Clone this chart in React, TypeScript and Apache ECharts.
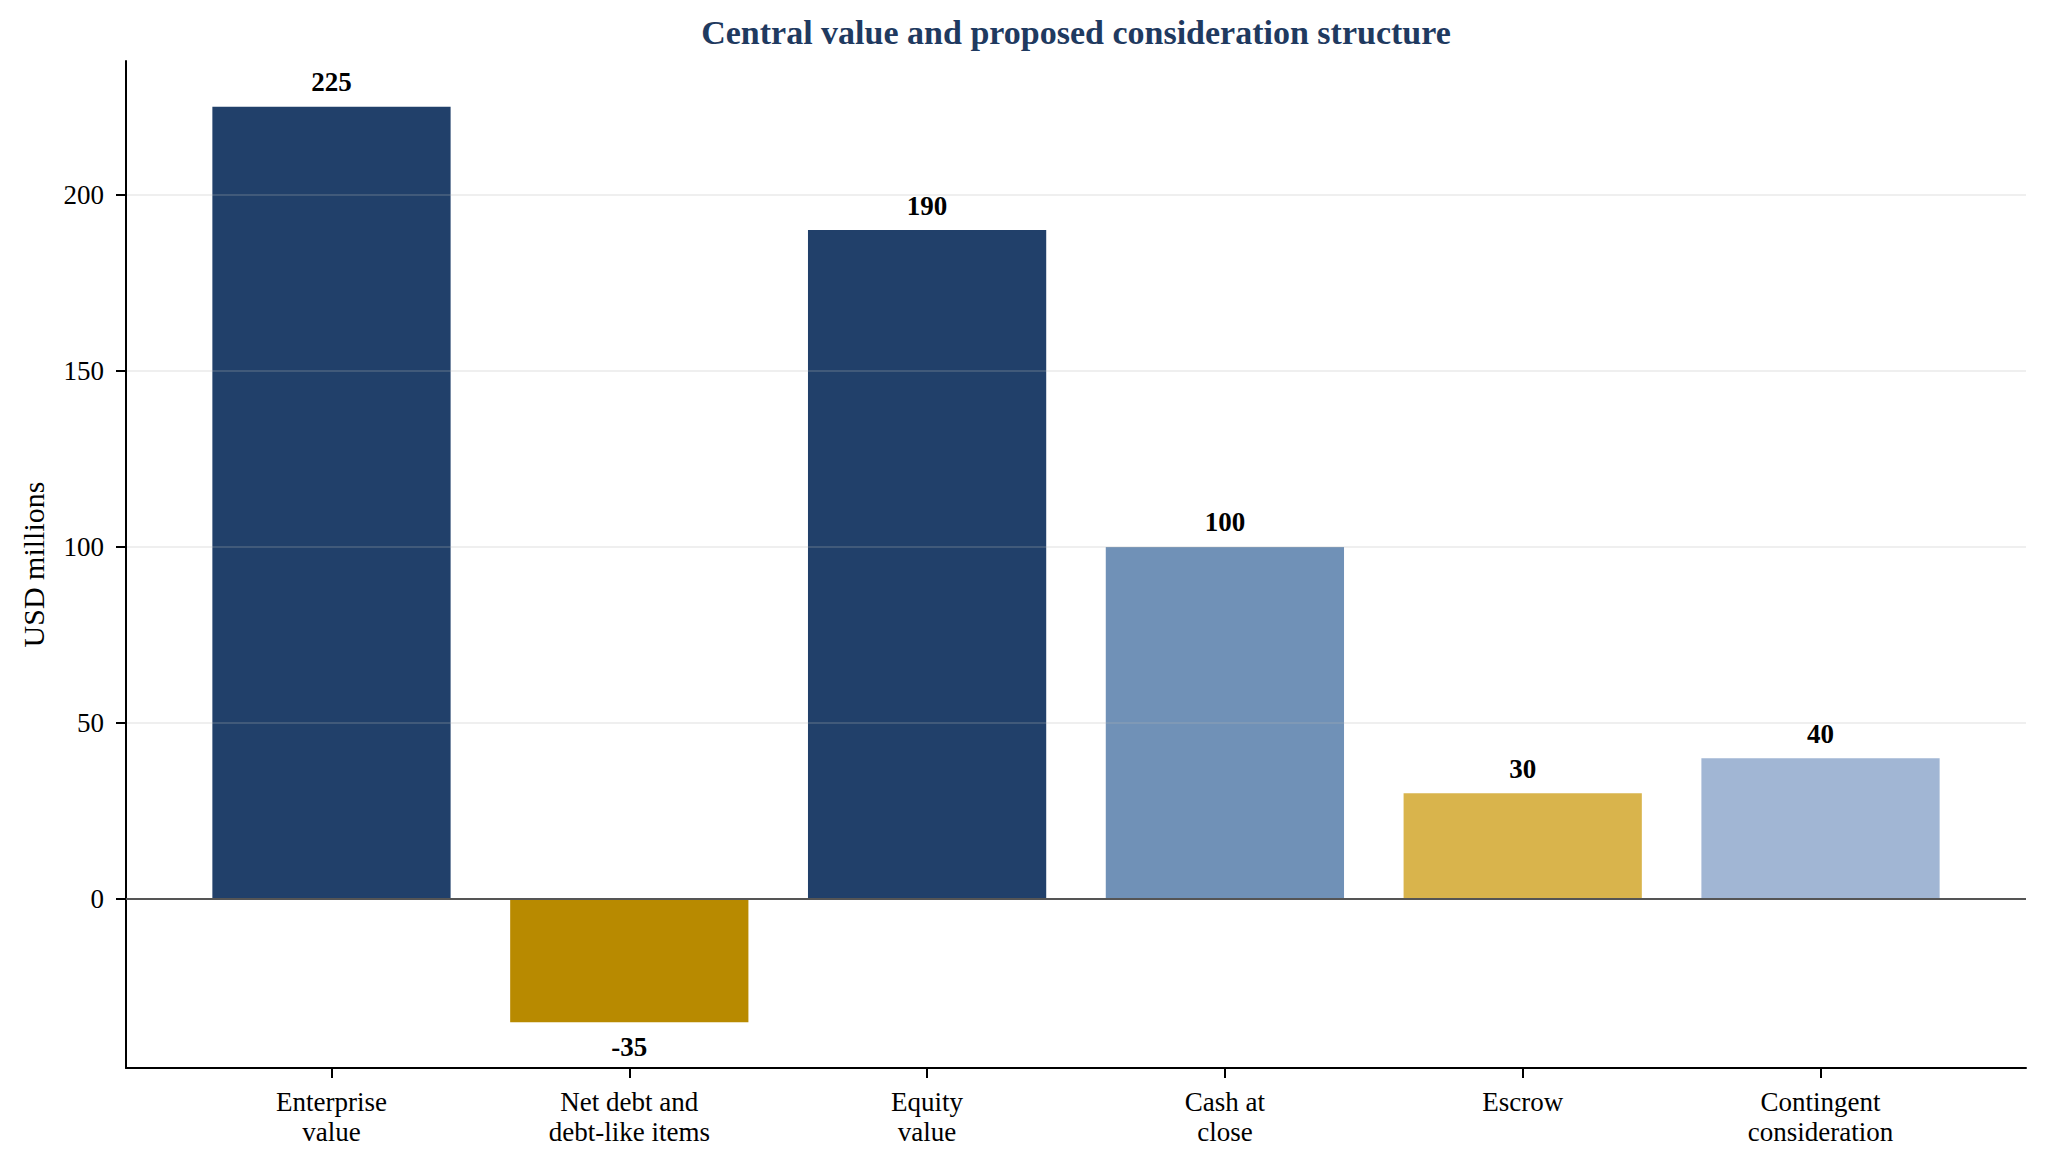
import React, { useEffect, useRef } from "react";
import * as echarts from "echarts";

const categories = [
  "Enterprise\nvalue",
  "Net debt and\ndebt-like items",
  "Equity\nvalue",
  "Cash at\nclose",
  "Escrow",
  "Contingent\nconsideration",
];
const values = [225, -35, 190, 100, 30, 40];
const barColors = ["#21406a", "#b88a00", "#21406a", "#7091b7", "#d9b44c", "#a1b6d4"];
const yTickValues = [0, 50, 100, 150, 200];
const xTickValues = [0, 1, 2, 3, 4, 5];
const yLimits = [-48, 238];
const xLimits = [-0.69, 5.69];
const titleText = "Central value and proposed consideration structure";
const yAxisName = "USD millions";

const FONT = "'Times New Roman', 'Liberation Serif', Times, serif";
const W = 2048;
const H = 1172;
const GRID = { left: 126, right: 22, top: 61, bottom: 104 };

export default function App() {
  const ref = useRef<HTMLDivElement>(null);

  useEffect(() => {
    document.body.style.margin = "0";
    if (!ref.current) return;
    const chart = echarts.init(ref.current, null, { renderer: "svg" });
    const plotW = W - GRID.left - GRID.right;
    const unitPx = plotW / (xLimits[1] - xLimits[0]);
    const barWidth = 0.8 * unitPx;

    chart.setOption({
      animation: false,
      backgroundColor: "#ffffff",
      title: {
        text: titleText,
        left: GRID.left + plotW / 2,
        top: 15,
        textAlign: "center",
        padding: 0,
        textStyle: { fontSize: 34, fontWeight: "bold", fontFamily: FONT, color: "#1f3a60" },
      },
      grid: { ...GRID, containLabel: false },
      xAxis: {
        type: "value",
        min: xLimits[0],
        max: xLimits[1],
        axisLine: { show: true, onZero: false, lineStyle: { color: "#000", width: 2 } },
        axisTick: {
          show: true,
          customValues: xTickValues,
          length: 10,
          lineStyle: { color: "#000", width: 2 },
        },
        axisLabel: {
          customValues: xTickValues,
          formatter: (v: number) => categories[Math.round(v)] ?? "",
          fontSize: 27,
          lineHeight: 30,
          margin: 19,
          color: "#000",
          fontFamily: FONT,
        },
        splitLine: { show: false },
      },
      yAxis: {
        type: "value",
        min: yLimits[0],
        max: yLimits[1],
        z: 3,
        name: yAxisName,
        nameLocation: "middle",
        nameGap: 78,
        nameTextStyle: { fontSize: 30, fontFamily: FONT, color: "#000" },
        axisLine: { show: true, onZero: false, lineStyle: { color: "#000", width: 2 } },
        axisTick: {
          show: true,
          customValues: yTickValues,
          length: 10,
          lineStyle: { color: "#000", width: 2 },
        },
        axisLabel: {
          customValues: yTickValues,
          fontSize: 27,
          margin: 22,
          color: "#000",
          fontFamily: FONT,
        },
        splitLine: {
          show: true,
          showMinLine: true,
          showMaxLine: true,
          lineStyle: { color: "rgba(180,180,180,0.22)", width: 2 },
        },
      },
      series: [
        {
          type: "bar",
          barWidth,
          data: values.map((v, i) => ({
            value: [i, v],
            itemStyle: { color: barColors[i] },
            label: { position: v < 0 ? "bottom" : "top" },
          })),
          label: {
            show: true,
            fontSize: 27,
            fontWeight: "bold",
            fontFamily: FONT,
            color: "#000",
            lineHeight: 27,
            distance: 11,
            formatter: (p: any) => String(p.value[1]),
          },
          markLine: {
            silent: true,
            symbol: ["none", "none"],
            label: { show: false },
            lineStyle: { color: "#555555", width: 2, type: "solid" },
            data: [{ yAxis: 0 }],
          },
        },
      ],
    });

    return () => chart.dispose();
  }, []);

  return (
    <div
      ref={ref}
      style={{ position: "fixed", left: 0, top: 0, width: W, height: H, background: "#fff" }}
    />
  );
}
